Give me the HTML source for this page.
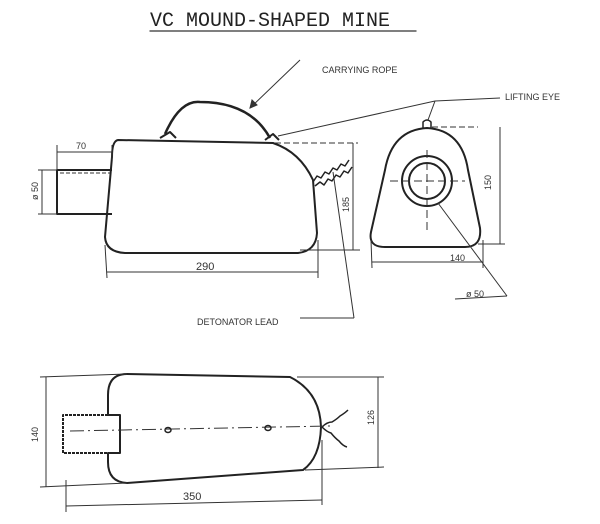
<!DOCTYPE html>
<html><head><meta charset="utf-8"><style>
html,body{margin:0;padding:0;background:#fff;}
svg{display:block}
text{font-family:"Liberation Sans",sans-serif;fill:#333}
</style></head><body>
<svg width="600" height="524" viewBox="0 0 600 524" xmlns="http://www.w3.org/2000/svg">
<g stroke="#333" fill="none" stroke-width="1" stroke-linecap="round">
<line x1="150" y1="31" x2="416" y2="31" stroke-width="1.3"/>
</g>
<text x="150" y="26" style="font-family:'Liberation Mono',monospace;font-size:20px;fill:#222">VC MOUND-SHAPED MINE</text>

<g stroke="#222" fill="none" stroke-width="2" stroke-linejoin="round">
<path d="M118,140 L273,143 Q300,152 313,180 L317,233 Q316,251 298,253 L125,253 Q106,252 105,237 L112,157 Q112,141 118,140 Z"/>
<path d="M112,170 L57,170 L57,214 L112,214"/>
<path d="M165,134 Q180,100 200,102 Q250,102 270,138" stroke-width="2.5"/>
<path d="M160,138 l10,-6 l6,6 M265,140 l8,-6 l6,6" stroke-width="2"/>
<path d="M313,182 l4,-6 l4,2 l4,-6 l4,2 l4,-6 l4,2 l4,-6 l4,2 l4,-6" stroke-width="1.5"/>
<path d="M315,186 l5,-4 l4,3 l4,-6 l4,2 l4,-6 l4,2 l4,-6 l4,2 l4,-6" stroke-width="1.5"/>

<path d="M427,128 Q462,130 468,170 L480,228 Q482,247 465,247 L385,247 Q368,247 371,232 L385,170 Q392,130 427,128 Z"/>
<circle cx="427" cy="181" r="25"/>
<circle cx="427" cy="181" r="18"/>
<path d="M423,128 l0,-6 q4,-4 8,0 l0,6" stroke-width="1.5"/>

<path d="M127,374 L290,377 Q320,392 321,427 Q320,458 303,470 L127,483 Q108,482 108,462 L108,453 L120,453 L120,415 L108,415 L108,395 Q108,374 127,374 Z"/>
<path d="M108,415 L63,415 L63,453 L108,453" stroke-dasharray="3,1"/>
<path d="M322,427 q5,-5 10,-5 q5,-3 8,-6 q5,-3 8,-6 M322,427 q5,5 9,6 q4,5 8,8 q4,5 8,6" stroke-width="1.5"/>
</g>

<g stroke="#333" fill="none" stroke-width="1">
<line x1="57" y1="152" x2="112" y2="152"/>
<line x1="57" y1="145" x2="57" y2="170"/>
<line x1="112" y1="145" x2="112" y2="160"/>
<line x1="42" y1="170" x2="42" y2="214"/>
<line x1="38" y1="170" x2="57" y2="170"/>
<line x1="38" y1="214" x2="57" y2="214"/>
<line x1="60" y1="173" x2="110" y2="173" stroke-dasharray="4,2"/>
<line x1="107" y1="272" x2="318" y2="272"/>
<line x1="105" y1="245" x2="107" y2="278"/>
<line x1="318" y1="240" x2="318" y2="278"/>
<line x1="353" y1="143" x2="353" y2="250"/>
<line x1="275" y1="143" x2="358" y2="143" stroke-dasharray="6,3"/>
<line x1="300" y1="250" x2="360" y2="250"/>
<line x1="333" y1="172" x2="354" y2="318"/>
<line x1="354" y1="318" x2="300" y2="318"/>
<line x1="300" y1="60" x2="250" y2="108"/>
<path d="M250,108 l2,-8 l5,5 z" fill="#333"/>
<line x1="278" y1="136" x2="435" y2="101"/>
<line x1="435" y1="101" x2="500" y2="98"/>
<line x1="435" y1="101" x2="428" y2="120"/>
<line x1="500" y1="127" x2="500" y2="244"/>
<line x1="432" y1="127" x2="478" y2="127" stroke-dasharray="6,3"/>
<line x1="478" y1="244" x2="505" y2="244"/>
<line x1="372" y1="262" x2="483" y2="262"/>
<line x1="371" y1="240" x2="372" y2="268"/>
<line x1="483" y1="240" x2="483" y2="268"/>
<line x1="438" y1="203" x2="507" y2="296"/>
<line x1="507" y1="296" x2="455" y2="299"/>
<line x1="427" y1="150" x2="427" y2="230" stroke-dasharray="8,4"/>
<line x1="390" y1="181" x2="465" y2="181" stroke-dasharray="8,4"/>
<line x1="46" y1="377" x2="46" y2="487"/>
<line x1="40" y1="377" x2="127" y2="374"/>
<line x1="40" y1="487" x2="127" y2="483"/>
<line x1="378" y1="377" x2="378" y2="468"/>
<line x1="297" y1="377" x2="384" y2="377"/>
<line x1="305" y1="470" x2="384" y2="467"/>
<line x1="66" y1="506" x2="322" y2="500"/>
<line x1="66" y1="480" x2="66" y2="512"/>
<line x1="322" y1="440" x2="322" y2="505"/>
<line x1="70" y1="431" x2="330" y2="426" stroke-dasharray="14,4,2,4"/>
</g>
<ellipse cx="168" cy="430" rx="3" ry="2.5" fill="none" stroke="#222" stroke-width="1.5"/>
<ellipse cx="268" cy="428" rx="3" ry="2.5" fill="none" stroke="#222" stroke-width="1.5"/>

<g style="font-size:9px">
<text x="322" y="73">CARRYING ROPE</text>
<text x="505" y="100">LIFTING EYE</text>
<text x="197" y="325">DETONATOR LEAD</text>
<text x="76" y="149">70</text>
<text x="196" y="270" style="font-size:11px">290</text>
<text x="450" y="261">140</text>
<text x="466" y="297">ø 50</text>
<text x="183" y="500" style="font-size:11px">350</text>
<text transform="translate(349,212) rotate(-90)" x="0" y="0">185</text>
<text transform="translate(491,190) rotate(-90)" x="0" y="0">150</text>
<text transform="translate(38,200) rotate(-90)" x="0" y="0">ø 50</text>
<text transform="translate(38,442) rotate(-90)" x="0" y="0">140</text>
<text transform="translate(374,425) rotate(-90)" x="0" y="0">126</text>
</g>
</svg>
</body></html>
